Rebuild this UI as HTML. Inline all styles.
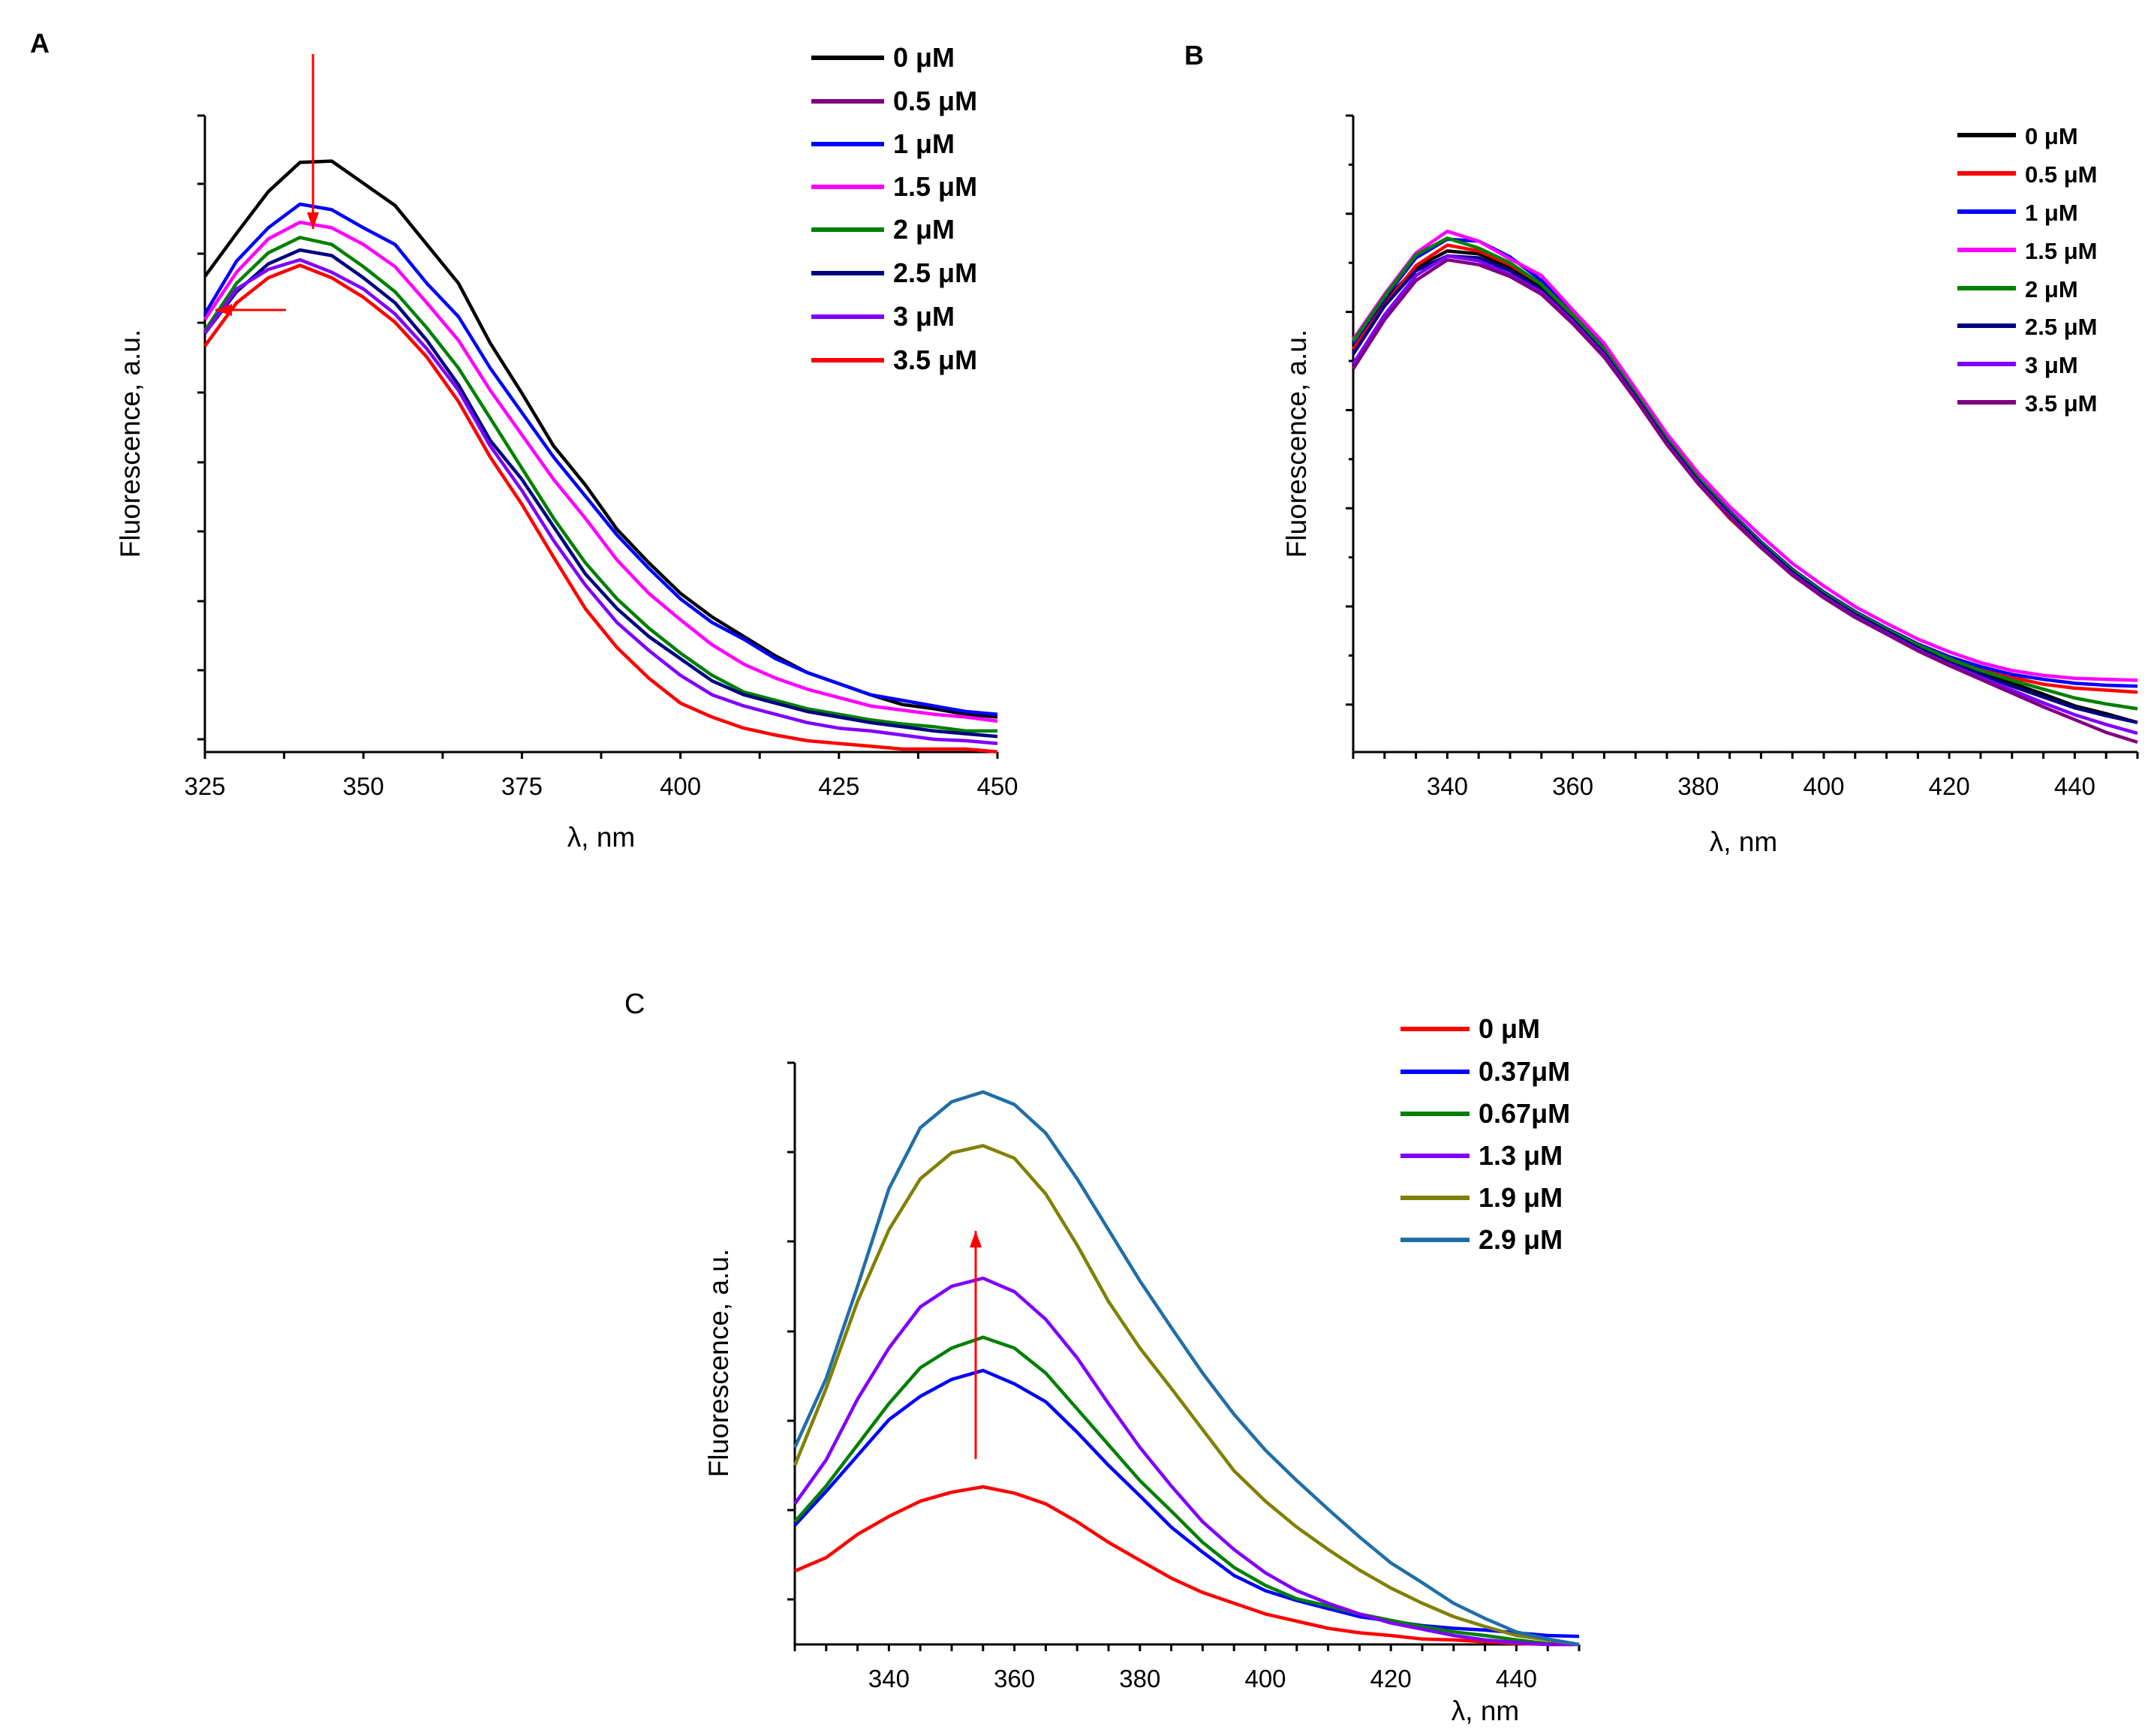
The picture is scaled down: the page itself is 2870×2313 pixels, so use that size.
<!DOCTYPE html>
<html><head><meta charset="utf-8">
<style>
html,body{margin:0;padding:0;background:#fff;}
svg{display:block;font-family:"Liberation Sans",Arial,sans-serif;}
</style></head>
<body>
<svg id="fig" width="2870" height="2313" viewBox="0 0 2870 2313" xmlns="http://www.w3.org/2000/svg">
<rect width="2870" height="2313" fill="#fff"/>
<text x="40" y="70" font-size="36" font-weight="bold">A</text>
<text x="1578" y="86" font-size="36" font-weight="bold">B</text>
<text x="832" y="1350" font-size="38">C</text>
<g id="panels"></g>
</svg>
<script>
const xsA = [325,330,335,340,345,350,355,360,365,370,375,380,385,390,395,400,405,410,415,420,425,430,435,440,445,450];
const xsB = xsA;
const xsC = xsA;

const labelsA = ["0 μM","0.5 μM","1 μM","1.5 μM","2 μM","2.5 μM","3 μM","3.5 μM"];
const colorsA = ["#000000","#800080","#0000ff","#ff00ff","#008000","#000080","#8000ff","#ff0000"];
const a0 = [3.33,3.64,3.94,4.15,4.16,4.00,3.84,3.56,3.28,2.85,2.49,2.11,1.83,1.51,1.27,1.05,0.88,0.74,0.60,0.48,0.40,0.32,0.25,0.22,0.18,0.16];
const a05 = [];
const a1 = [3.06,3.44,3.68,3.85,3.81,3.68,3.56,3.28,3.04,2.67,2.35,2.03,1.75,1.47,1.23,1.01,0.84,0.72,0.58,0.48,0.40,0.32,0.28,0.24,0.20,0.18];
const a15 = [3.02,3.36,3.60,3.72,3.68,3.56,3.40,3.14,2.87,2.51,2.19,1.87,1.59,1.29,1.05,0.86,0.68,0.54,0.44,0.36,0.30,0.24,0.21,0.18,0.16,0.13];
const a2 = [2.94,3.28,3.50,3.61,3.56,3.40,3.22,2.96,2.67,2.31,1.95,1.59,1.27,1.01,0.80,0.62,0.46,0.34,0.28,0.22,0.18,0.14,0.11,0.09,0.06,0.06];
const a25 = [2.92,3.22,3.42,3.52,3.48,3.32,3.14,2.87,2.55,2.15,1.87,1.53,1.19,0.94,0.74,0.58,0.42,0.32,0.26,0.20,0.16,0.12,0.09,0.06,0.04,0.02];
const a3 = [2.92,3.24,3.38,3.45,3.36,3.24,3.06,2.81,2.51,2.11,1.79,1.43,1.11,0.84,0.64,0.46,0.32,0.24,0.18,0.12,0.08,0.06,0.03,0.00,-0.01,-0.03];
const a35 = [2.83,3.14,3.32,3.41,3.32,3.18,3.00,2.75,2.43,2.03,1.69,1.31,0.94,0.66,0.44,0.26,0.16,0.08,0.03,-0.01,-0.03,-0.05,-0.07,-0.07,-0.07,-0.09];
const seriesA = [a0,a05,a1,a15,a2,a25,a3,a35];
const xTicksA = [325,350,375,400,425,450];

const labelsB = ["0 μM","0.5 μM","1 μM","1.5 μM","2 μM","2.5 μM","3 μM","3.5 μM"];
const colorsB = ["#000000","#ff0000","#0000ff","#ff00ff","#008000","#000080","#8000ff","#800080"];
const b0 = [41.4,45.9,49.3,51.0,50.7,49.3,47.3,44.2,40.8,36.3,31.7,27.7,24.3,21.2,18.4,16.1,14.1,12.4,10.7,9.3,8.1,7.0,5.9,4.7,3.9,3.0];
const b05 = [41.0,45.5,49.5,51.6,51.0,49.6,47.6,44.4,40.9,36.4,31.6,27.3,23.8,20.8,18.1,15.8,13.9,12.3,10.7,9.4,8.4,7.6,6.9,6.5,6.3,6.1];
const b1 = [41.6,46.2,50.3,52.2,52.0,50.4,48.0,44.6,41.2,36.6,32.0,27.9,24.5,21.4,18.6,16.3,14.3,12.6,11.0,9.7,8.7,7.9,7.4,7.0,6.8,6.7];
const b15 = [42.0,46.6,50.8,53.0,52.0,50.2,48.5,45.0,41.6,37.0,32.4,28.4,25.0,22.0,19.2,16.9,14.8,13.1,11.5,10.2,9.1,8.3,7.8,7.5,7.4,7.3];
const b2 = [41.8,46.4,50.6,52.3,51.3,49.8,47.6,44.5,41.0,36.5,31.9,27.9,24.4,21.3,18.5,16.2,14.2,12.5,10.9,9.5,8.3,7.3,6.4,5.5,4.9,4.4];
const b25 = [40.5,45.4,49.0,50.5,50.3,49.0,47.0,44.0,40.6,36.2,31.6,27.6,24.2,21.1,18.3,16.0,14.0,12.3,10.6,9.1,7.9,6.7,5.6,4.5,3.7,3.0];
const b3 = [39.5,44.5,48.5,50.5,50.0,48.6,46.8,43.8,40.4,36.0,31.4,27.4,24.0,20.9,18.1,15.8,13.8,12.1,10.4,8.9,7.6,6.3,5.0,3.8,2.8,1.9];
const b35 = [39.0,44.0,48.0,50.1,49.6,48.4,46.6,43.6,40.2,35.9,31.3,27.3,23.9,20.8,18.0,15.7,13.7,12.0,10.3,8.8,7.4,6.0,4.6,3.3,2.0,1.0];
const seriesB = [b0,b05,b1,b15,b2,b25,b3,b35];
const xTicksB = [340,360,380,400,420,440];

const labelsC = ["0 μM","0.37μM","0.67μM","1.3 μM","1.9 μM","2.9 μM"];
const colorsC = ["#ff0000","#0000ff","#008000","#8000ff","#808000","#1f6ea8"];
const c0 = [8.2,9.7,12.3,14.3,16.0,17.0,17.6,16.9,15.7,13.7,11.4,9.4,7.4,5.8,4.6,3.4,2.6,1.8,1.3,1.0,0.6,0.5,0.3,0.1,0,0];
const c037 = [13.3,17.1,21.1,25.1,27.7,29.6,30.6,29.1,27.1,23.7,20.0,16.6,13.1,10.3,7.7,6.0,4.9,4.0,3.1,2.6,2.1,1.8,1.6,1.3,1.0,0.9];
const c067 = [13.7,17.7,22.3,26.9,30.9,33.1,34.3,33.1,30.3,26.3,22.3,18.3,14.9,11.4,8.6,6.6,5.1,4.3,3.4,2.7,2.0,1.4,1.0,0.5,0.1,0];
const c13 = [15.7,20.6,27.4,33.1,37.7,40.0,40.9,39.4,36.3,32.0,26.9,22.0,17.7,13.7,10.6,8.0,6.0,4.6,3.4,2.4,1.7,1.0,0.5,0.2,0,0];
const c19 = [20.0,28.6,38.3,46.3,52.0,54.9,55.7,54.3,50.3,44.6,38.3,33.1,28.6,24.0,19.4,16.0,13.1,10.6,8.3,6.3,4.6,3.1,2.0,1.0,0.5,0];
const c29 = [22.0,29.7,40.0,50.9,57.7,60.6,61.7,60.3,57.1,52.0,46.3,40.6,35.4,30.3,25.7,21.7,18.3,15.1,12.0,9.1,6.9,4.6,2.9,1.4,0.6,0];
const seriesC = [c0,c037,c067,c13,c19,c29];
const xTicksC = [340,360,380,400,420,440];

const NS = "http://www.w3.org/2000/svg";
const root = document.getElementById('panels');
function mk(tag, attrs, parent){
  const e = document.createElementNS(NS, tag);
  for (const k in attrs) e.setAttribute(k, attrs[k]);
  (parent||root).appendChild(e);
  return e;
}

function panel(cfg){
  const g = mk('g', {});
  
  
  const sx = v => cfg.x0 + (v - cfg.xmin) / (cfg.xmax - cfg.xmin) * (cfg.x1 - cfg.x0);
  const sy = v => cfg.yZero - v * cfg.yScale;
  const ax = mk('path', {d:`M${cfg.x0} ${cfg.yTop}V${cfg.yBot}H${cfg.x1}`, stroke:'#000', 'stroke-width':3, fill:'none'}, g);
  
  
  cfg.yTicks.forEach((ty,i) => {
    const len = cfg.yMinor && (i % 2 === 1) ? 6 : 10;
    mk('line', {x1:cfg.x0-len, x2:cfg.x0, y1:ty, y2:ty, stroke:'#000', 'stroke-width':3}, g);
  });
  for (let v = cfg.xmin; v <= cfg.xmax + 0.001; v += cfg.xMinorStep) {
    mk('line', {x1:sx(v), x2:sx(v), y1:cfg.yBot, y2:cfg.yBot+9, stroke:'#000', 'stroke-width':3}, g);
  }
  cfg.xTicks.forEach(v => {
    const t = mk('text', {x:sx(v), y:cfg.yBot+57, 'font-size':33, 'text-anchor':'middle'}, g);
    
    
    t.textContent = v;
  });
  const xt = mk('text', {x:cfg.xTitleX, y:cfg.xTitleY, 'font-size':37, 'text-anchor':'middle'}, g);
  
  
  xt.textContent = 'λ, nm';
  const yt = mk('text', {x:0, y:0, 'font-size':37, 'text-anchor':'middle', transform:`translate(${cfg.yTitleX},${cfg.yTitleY}) rotate(-90)`}, g);
  
  
  yt.textContent = 'Fluorescence, a.u.';
  cfg.series.forEach((arr, si) => {
    if (!arr.length) return;
    const d = arr.map((v,i) => (i ? 'L' : 'M') + sx(cfg.xs[i]).toFixed(1) + ' ' + sy(v).toFixed(1)).join('');
    const p = mk('path', {d, stroke:cfg.colors[si], 'stroke-width':4.5, fill:'none', 'stroke-linejoin':'round'}, g);
    
    
  });
  cfg.labels.forEach((lab, i) => {
    const y = cfg.legY[i];
    const l = mk('line', {x1:cfg.legX0, x2:cfg.legX1, y1:y, y2:y, stroke:cfg.colors[i], 'stroke-width':6}, g);
    
    
    const t = mk('text', {x:cfg.legX1+12, y:y+12, 'font-size':cfg.legFont, 'font-weight':'bold'}, g);
    
    
    t.textContent = lab;
  });
  return g;
}

function arrow(x1,y1,x2,y2,name){
  const g = mk('g', {});
  
  
  mk('line', {x1,y1,x2,y2, stroke:'#ff0000', 'stroke-width':3}, g);
  const ang = Math.atan2(y2-y1, x2-x1);
  const L = 22, W = 8;
  const bx = x2 - L*Math.cos(ang), by = y2 - L*Math.sin(ang);
  const px = -Math.sin(ang)*W, py = Math.cos(ang)*W;
  mk('polygon', {points:`${x2},${y2} ${bx+px},${by+py} ${bx-px},${by-py}`, fill:'#ff0000'}, g);
}

panel({name:'panel-a', x0:273, x1:1329, xmin:325, xmax:450, yTop:154, yBot:1002, yZero:985, yScale:185.2,
  xs:xsA, series:seriesA, colors:colorsA, labels:labelsA, xTicks:xTicksA, xMinorStep:12.5,
  yTicks:[154,245,338,430,523,616,708,801,893,985], yMinor:false,
  xTitleX:801, xTitleY:1128, yTitleX:186, yTitleY:591,
  legX0:1081, legX1:1178, legY:[77,135,192,249,306,364,422,480], legFont:36});
arrow(417, 72, 417, 305, 'arrow-decrease');
arrow(381, 413, 287, 413, 'arrow-shift');

const ticksBy = [];
for (let k=0;k<13;k++) ticksBy.push(154 + k*65.4);
panel({name:'panel-b', x0:1803, x1:2848, xmin:325, xmax:450, yTop:154, yBot:1002, yZero:1002, yScale:13.09,
  xs:xsB, series:seriesB, colors:colorsB, labels:labelsB, xTicks:xTicksB, xMinorStep:5,
  yTicks:ticksBy, yMinor:true,
  xTitleX:2323, xTitleY:1134, yTitleX:1740, yTitleY:591,
  legX0:2608, legX1:2686, legY:[180,231,282,333,384,434,485,536], legFont:31});

panel({name:'panel-c', x0:1059, x1:2104, xmin:325, xmax:450, yTop:1416, yBot:2191, yZero:2191, yScale:11.93,
  xs:xsC, series:seriesC, colors:colorsC, labels:labelsC, xTicks:xTicksC, xMinorStep:5,
  yTicks:[1416,1535,1654,1774,1893,2012,2131], yMinor:false,
  xTitleX:1979, xTitleY:2292, yTitleX:970, yTitleY:1816,
  legX0:1866, legX1:1958, legY:[1371,1428,1484,1540,1596,1652], legFont:36});
arrow(1300, 1944, 1300, 1640, 'arrow-increase');
</script>
</body></html>
